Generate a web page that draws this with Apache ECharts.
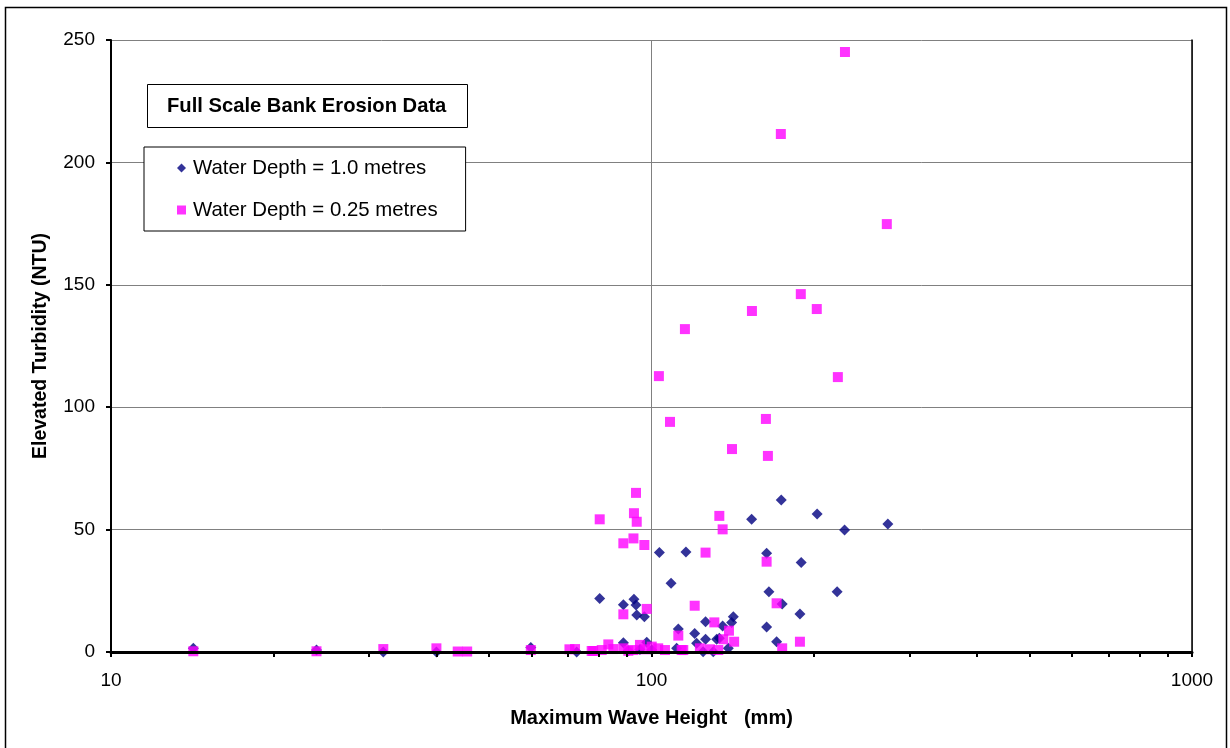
<!DOCTYPE html>
<html><head><meta charset="utf-8">
<script src="https://cdn.jsdelivr.net/npm/echarts@6/dist/echarts.min.js"></script>
<style>html,body{margin:0;padding:0;background:#fff}#c{width:1230px;height:748px}</style>
</head><body><div id="c"></div>
<script>
const titleText = 'Full Scale Bank Erosion Data';
const seriesNames = ['Water Depth = 1.0 metres', 'Water Depth = 0.25 metres'];
const xTickValues = [10,20,30,40,50,60,70,80,90,100,200,300,400,500,600,700,800,900,1000];
const xLabelValues = [10,100,1000];

// [max wave height (mm), elevated turbidity (NTU)]
const depth10 = [
  [14.2,1.5],[24.0,0.8],[31.9,0],[40.0,0],[59.8,1.8],[72.7,0],
  [80.2,21.9],[88.7,19.3],[88.7,3.8],[90.6,0.5],[92.8,21.5],[93.6,19.2],[93.9,15.1],
  [95.2,1.0],[97.0,14.4],[98.0,4.0],[100.1,0.8],[103.4,40.6],[108.7,28.1],[111.3,1.5],
  [112.1,9.4],[115.8,40.8],[120.2,7.6],[121.2,3.6],[124.6,0.1],[125.9,12.4],[125.9,5.2],
  [130.1,0.1],[132.0,5.2],[133.5,5.6],[135.4,10.6],[138.7,1.5],[140.7,12.0],[141.7,14.4],
  [153.2,54.2],[163.3,40.3],[163.3,10.2],[164.9,24.6],[170.4,4.2],[173.8,62.1],[174.5,19.6],
  [188.2,15.5],[189.2,36.6],[202.5,56.4],[220.5,24.6],[227.6,49.8],[273.7,52.3]
];
const depth025 = [
  [14.2,0.3],[24.0,0.3],[31.9,1.2],[40.0,1.5],[43.8,0.2],[45.6,0.2],[59.8,0.8],[70.5,1.1],
  [72.2,1.2],[77.5,0.4],[78.0,0.4],[80.9,0.8],[83.2,3.1],[85.0,1.2],[88.7,1.5],[90.6,0.5],
  [92.6,0.8],[95.2,2.9],[97.3,1.1],[100.1,2.2],[102.9,1.5],[105.9,0.8],[113.7,0.8],[114.5,0.8],
  [122.9,1.5],[128.3,1.1],[132.9,0.8],[174.5,1.5],[188.2,4.2],[112.1,6.7],[120.2,18.9],
  [130.7,12.1],[139.1,8.7],[135.8,5.2],[142.2,4.2],[170.4,19.9],[88.7,15.4],[98.0,17.6],
  [80.2,54.2],[88.7,44.4],[92.6,46.4],[97.0,43.7],[93.6,65.0],[92.8,56.7],[93.9,53.2],
  [133.5,55.6],[135.4,50.1],[125.9,40.6],[163.3,36.9],[103.2,112.7],[108.2,94.0],[115.3,131.9],
  [140.9,82.9],[153.4,139.3],[162.8,95.2],[164.2,80.1],[173.5,211.6],[188.9,146.2],[202.2,140.1],
  [221.2,112.3],[228.0,245.1],[272.5,174.8]
];

const FONT = '"Liberation Sans", Arial, sans-serif';
const chart = echarts.init(document.getElementById('c'), null, {renderer:'canvas'});
chart.setOption({
  animation: false,
  backgroundColor: '#fff',
  graphic: [{
    type: 'rect', shape: {x: 5.5, y: 7.5, width: 1221, height: 745}, silent: true,
    style: {fill: 'none', stroke: '#000', lineWidth: 1.5}, z: 0
  }],
  title: {
    text: titleText, left: 147, top: 84,
    padding: [12, 21, 12, 20], borderColor: '#000', borderWidth: 1, backgroundColor: '#fff',
    textStyle: {fontFamily: FONT, fontSize: 20.2, fontWeight: 'bold', color: '#000', lineHeight: 20},
    z: 10
  },
  legend: {
    left: 144, top: 147, orient: 'vertical',
    padding: [11, 28, 11, 33], itemGap: 22, itemWidth: 9, itemHeight: 9,
    borderColor: '#000', borderWidth: 1, backgroundColor: '#fff',
    textStyle: {fontFamily: FONT, fontSize: 20.4, color: '#000', lineHeight: 20, padding: [0, 0, 0, 2]},
    data: [{name: seriesNames[0], icon: 'diamond'}, {name: seriesNames[1], icon: 'rect'}],
    z: 10
  },
  grid: {left: 111, right: 38, top: 40, bottom: 96, containLabel: false},
  xAxis: [{
    type: 'log', logBase: 10, min: 10, max: 1000,
    name: 'Maximum Wave Height   (mm)', nameLocation: 'middle', nameGap: 56,
    nameTextStyle: {fontFamily: FONT, fontSize: 20, fontWeight: 'bold', color: '#000'},
    axisLine: {show: true, onZero: false, lineStyle: {color: '#000', width: 3}},
    axisTick: {show: true, inside: false, length: 5, lineStyle: {color: '#000', width: 2}, customValues: xTickValues},
    axisLabel: {fontFamily: FONT, fontSize: 19, color: '#000', margin: 19, customValues: xLabelValues,
      formatter: v => String(Math.round(v))},
    splitLine: {show: false},
    minorTick: {show: false}, z: 5
  }, {
    type: 'log', logBase: 10, min: 10, max: 1000, position: 'bottom',
    axisLine: {show: false}, axisTick: {show: false}, axisLabel: {show: false},
    splitLine: {show: true, lineStyle: {color: '#808080', width: 1}}
  }],
  yAxis: [{
    type: 'value', min: 0, max: 250, interval: 50,
    name: 'Elevated Turbidity (NTU)', nameLocation: 'middle', nameGap: 60, nameRotate: 90,
    nameTextStyle: {fontFamily: FONT, fontSize: 19.5, fontWeight: 'bold', color: '#000'},
    axisLine: {show: true, onZero: false, lineStyle: {color: '#000', width: 2}},
    axisTick: {show: true, length: 5, lineStyle: {color: '#000', width: 2}},
    axisLabel: {fontFamily: FONT, fontSize: 19, color: '#000', margin: 16},
    splitLine: {show: true, lineStyle: {color: '#808080', width: 1}}
  }, {
    type: 'value', min: 0, max: 250, interval: 50, position: 'right',
    axisLine: {show: true, lineStyle: {color: '#000', width: 1.5}},
    axisTick: {show: false}, axisLabel: {show: false}, splitLine: {show: false}
  }],
  series: [{
    name: seriesNames[0], type: 'scatter', data: depth10,
    symbol: 'diamond', symbolSize: 11, itemStyle: {color: '#000080'}, z: 3
  }, {
    name: seriesNames[1], type: 'scatter', data: depth025,
    symbol: 'rect', symbolSize: 10, itemStyle: {color: '#FF00FF'}, z: 4
  }]
});
</script></body></html>
